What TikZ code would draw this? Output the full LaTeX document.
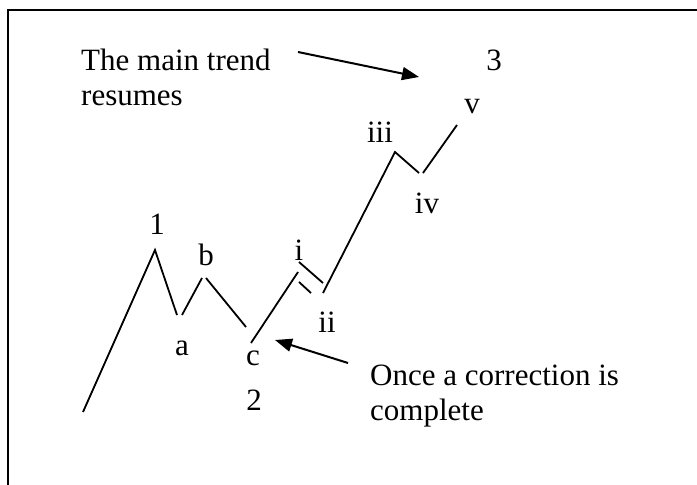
\documentclass[tikz,border=0pt]{standalone}
\usepackage{fontspec}
\setmainfont{Liberation Serif}
\usetikzlibrary{arrows.meta}
\begin{document}
\begin{tikzpicture}[x=1pt,y=-1pt,
  wave/.style={line width=1.8pt, line join=miter},
  lbl/.style={inner sep=0pt, anchor=base, font=\fontsize{31}{35}\selectfont},
  txt/.style={inner sep=0pt, anchor=base west, font=\fontsize{31}{35}\selectfont},
  pointer/.style={line width=2pt, -{Triangle[length=17pt,width=13pt]}},
  frame/.style={line width=2.2pt}]
\useasboundingbox (0,0) rectangle (697,485);
% frame (cropped at right and bottom)
\coordinate (fb) at (8,485);
\coordinate (fc) at (8,10);
\coordinate (fr) at (697,10);
\draw[frame] (fb) -- (fc) -- (fr);

% wave points
\coordinate (p0) at (83,412);
\coordinate (p1) at (155,250);
\coordinate (pa1) at (177,315);
\coordinate (pa2) at (182,315);
\coordinate (pb1) at (202,278);
\coordinate (pb2) at (206,278);
\coordinate (pc1) at (246,327);
\coordinate (pc2) at (251,343);
\coordinate (pi1) at (298,272);
\coordinate (pi2) at (299,262);
\coordinate (pii1) at (323,283);
\coordinate (pq1) at (299,282);
\coordinate (pq2) at (311,293);
\coordinate (pii2) at (323,293);
\coordinate (piii) at (395,152);
\coordinate (piv1) at (419,173);
\coordinate (piv2) at (423,173);
\coordinate (pv) at (457,125);

\draw[wave] (p0) -- (p1) -- (pa1);
\draw[wave] (pa2) -- (pb1);
\draw[wave] (pb2) -- (pc1);
\draw[wave] (pc2) -- (pi1);
\draw[wave] (pi2) -- (pii1);
\draw[wave] (pq1) -- (pq2);
\draw[wave] (pii2) -- (piii) -- (piv1);
\draw[wave] (piv2) -- (pv);

% labels
\node[lbl] (l1) at (157,234) {1};
\node[lbl] (la) at (182,355) {a};
\node[lbl] (lb) at (206,265) {b};
\node[lbl] (lc) at (253,365) {c};
\node[lbl] (l2) at (254,410) {2};
\node[lbl] (li) at (299,260) {i};
\node[lbl] (lii) at (327,332) {ii};
\node[lbl] (liii) at (380,142) {iii};
\node[lbl] (liv) at (427,213) {iv};
\node[lbl] (lv) at (472,113) {v};
\node[lbl] (l3) at (494,70) {3};

% texts
\node[txt] (t1a) at (81,70) {The main trend};
\node[txt] (t1b) at (81,105) {resumes};
\node[txt] (t2a) at (370,385) {Once a correction is};
\node[txt] (t2b) at (370,420) {complete};

% arrows
\coordinate (a1s) at (298,52);
\coordinate (a1e) at (419,77);
\draw[pointer] (a1s) -- (a1e);
\coordinate (a2s) at (348,363);
\coordinate (a2e) at (275,340);
\draw[pointer] (a2s) -- (a2e);
\end{tikzpicture}
\end{document}
